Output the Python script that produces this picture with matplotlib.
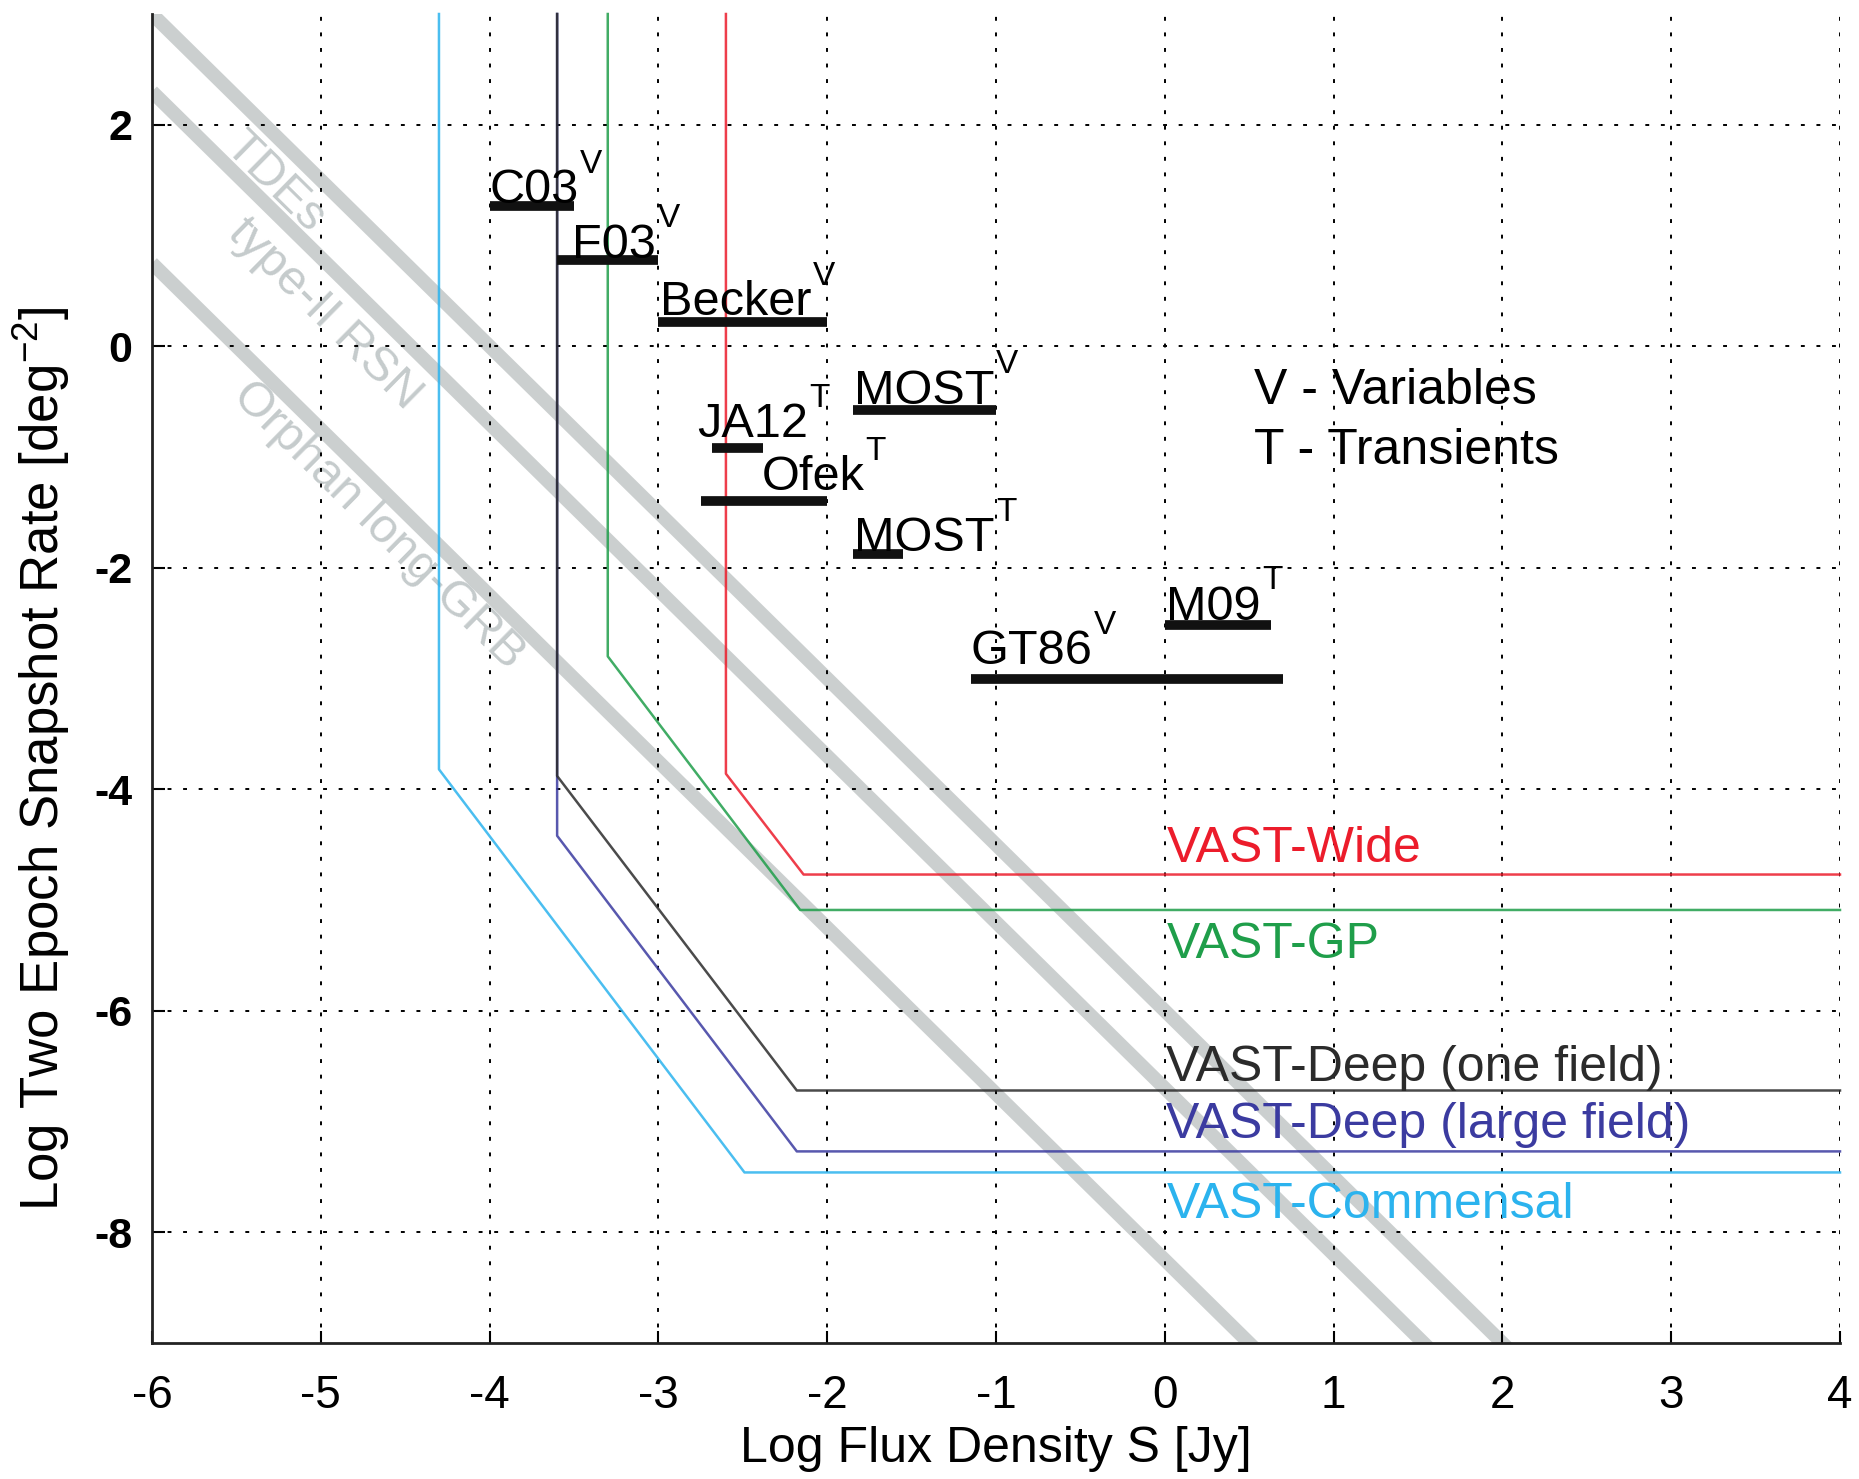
import numpy as np
import matplotlib
matplotlib.use("Agg")
import matplotlib.pyplot as plt

plt.rcParams['font.family'] = ['Liberation Sans', 'DejaVu Sans']
plt.rcParams['mathtext.fontset'] = 'custom'
plt.rcParams['mathtext.rm'] = 'Liberation Sans'
plt.rcParams['axes.unicode_minus'] = False

# survey sensitivity curves: vertical cut at x0 down to y1, slope to (x2, y2), then flat
survey_names = ['VAST-Wide', 'VAST-GP', 'VAST-Deep (large field)',
                'VAST-Deep (one field)', 'VAST-Commensal']
survey_x0 = [-2.60, -3.30, -3.60, -3.60, -4.30]
survey_y1 = [-3.86, -2.80, -4.42, -3.88, -3.82]
survey_x2 = [-2.14, -2.16, -2.18, -2.18, -2.49]
survey_y2 = [-4.77, -5.09, -7.27, -6.72, -7.46]
survey_colors = ['#ec1c2b', '#1f9e4a', '#3b3ba0', '#2b2b2b', '#2bb3ee']

# populations: lines of slope -1.5, given by their value at the left edge
pop_names = ['TDEs', 'type-II RSN', 'Orphan long-GRB']
pop_y_left = [3.0, 2.3, 0.75]
pop_slope = -1.5

# previous surveys
bar_names = ['C03', 'F03', 'Becker', 'MOST', 'JA12', 'Ofek', 'MOST', 'M09', 'GT86']
bar_kind = ['V', 'V', 'V', 'V', 'T', 'T', 'T', 'T', 'V']
bar_lo = [-4.00, -3.60, -3.00, -1.85, -2.68, -2.75, -1.85, 0.00, -1.15]
bar_hi = [-3.50, -3.00, -2.00, -1.00, -2.38, -2.00, -1.55, 0.63, 0.70]
bar_y = [1.27, 0.78, 0.22, -0.58, -0.92, -1.40, -1.88, -2.52, -3.00]

# label placement relative to each bar
lab_dx = [0.0, 0.09, 0.01, 0.01, -0.09, 0.36, 0.01, 0.01, 0.0]
lab_dy = [0.02, 0.02, 0.06, 0.06, 0.10, 0.10, 0.03, 0.05, 0.13]

xmin, xmax, ymin, ymax = -6, 4, -9, 3

fig = plt.figure(figsize=(18.59, 14.79), dpi=100)
ax = fig.add_axes([152/1859, 1 - 1343/1479, (1840-152)/1859, (1343-14)/1479])
ax.set_xlim(xmin, xmax)
ax.set_ylim(ymin, ymax)

ax.grid(True, color='black', linestyle=(0, (2, 6)), linewidth=1.4, zorder=0)
ax.set_xticks(np.arange(-6, 5, 1))
ax.set_yticks(np.arange(-8, 3, 2))
ax.tick_params(direction='in', length=9, width=1.5, labelsize=33)
ax.tick_params(axis='x', pad=22)
ax.tick_params(axis='y', pad=14)
for lab in ax.get_yticklabels():
    lab.set_weight('bold')
    lab.set_fontsize(31)
for s in ['top', 'right']:
    ax.spines[s].set_visible(False)
for s in ['left', 'bottom']:
    ax.spines[s].set_linewidth(2)
    ax.spines[s].set_color('#222222')

# population bands
band_x = np.array([xmin, xmax])
for yl in pop_y_left:
    ax.plot(band_x, yl + pop_slope * (band_x - xmin), color='#c9cdcd',
            linewidth=10, solid_capstyle='butt', zorder=1, alpha=0.95)

# band labels, rotated along the bands and sitting just below them
p0 = ax.transData.transform((0, 0))
p1 = ax.transData.transform((1, pop_slope))
angle = np.degrees(np.arctan2(p1[1] - p0[1], p1[0] - p0[0]))
pop_label_x = [-5.27, -4.98, -4.66]
pop_label_drop = [0.43, 0.48, 0.36]
for name, yl, lx, dy in zip(pop_names, pop_y_left, pop_label_x, pop_label_drop):
    ly = yl + pop_slope * (lx - xmin) - dy
    ax.text(lx, ly, name, rotation=angle, rotation_mode='anchor',
            ha='center', va='center', fontsize=35, color='#c5cbcc', zorder=1)

# survey curves
for name, x0, y1, x2, y2, c in zip(survey_names, survey_x0, survey_y1,
                                   survey_x2, survey_y2, survey_colors):
    ax.plot([x0, x0, x2, xmax], [ymax, y1, y2, y2], color=c, linewidth=1.8,
            zorder=2, clip_on=False, alpha=0.85)

# survey labels
survey_lab_y = [-4.66, -5.52, -7.15, -6.63, -7.87]
for name, ly, c in zip(survey_names, survey_lab_y, survey_colors):
    ax.text(0.01, ly, name, color=c, fontsize=36, va='baseline', zorder=4)

# previous surveys as thick bars with labels
for i in range(len(bar_names)):
    ax.plot([bar_lo[i], bar_hi[i]], [bar_y[i], bar_y[i]], color='#111111',
            linewidth=7, solid_capstyle='butt', zorder=3)
    t = ax.text(bar_lo[i] + lab_dx[i], bar_y[i] + lab_dy[i], bar_names[i],
                fontsize=35, va='baseline', ha='left', zorder=4)
    ax.annotate(bar_kind[i], xy=(1, 1), xycoords=t, xytext=(1, 14),
                textcoords='offset points', fontsize=24, va='top', ha='left',
                zorder=4)

ax.text(0.53, -0.52, 'V - Variables', fontsize=36, va='baseline')
ax.text(0.53, -1.06, 'T - Transients', fontsize=36, va='baseline')

fig.text(996/1859, 1 - 1449/1479, 'Log Flux Density S [Jy]', fontsize=36,
         ha='center', va='center')
fig.text(41/1859, 1 - 759/1479, r'Log Two Epoch Snapshot Rate [deg$^{-2}$]',
         fontsize=38, ha='center', va='center', rotation=90)

fig.savefig('out.png', dpi=100)
